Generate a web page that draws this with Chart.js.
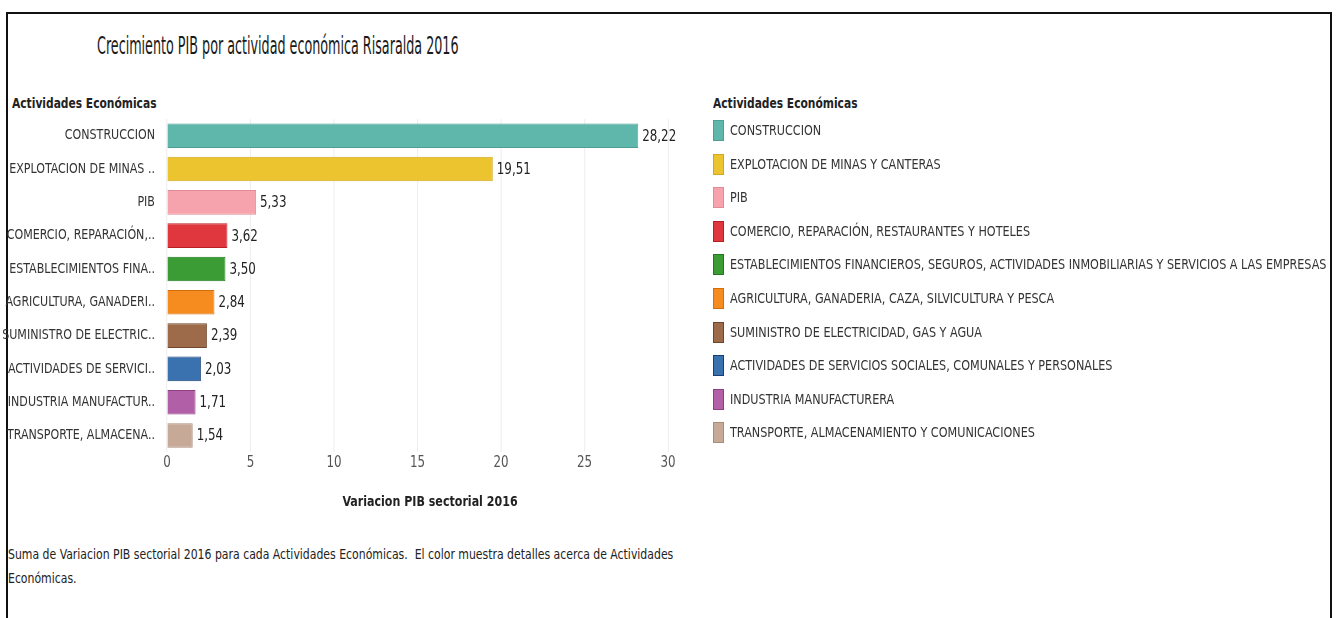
<!DOCTYPE html>
<html>
<head>
<meta charset="utf-8">
<script src="https://cdn.jsdelivr.net/npm/chart.js@4.4.0/dist/chart.umd.min.js"></script>
<style>
  body { margin: 0; background: #fff; font-family: "DejaVu Sans Condensed", "DejaVu Sans", sans-serif; color: #333; }
  #frame { position: absolute; left: 6px; top: 12px; width: 1322px; height: 640px; border: 2px solid #111; border-bottom: none; }
  .sq { position: absolute; white-space: nowrap; transform-origin: left top; transform: scaleX(0.88); }
  #title { left: 97px; top: 31px; font-size: 25px; color: #1a1a1a; transform: scaleX(0.566); }
  .hdr { font-size: 13.5px; font-weight: bold; color: #222; }
  #wrap { position: absolute; left: 0; top: 105px; width: 800px; height: 406px; }
  #legend { position: absolute; left: 713px; top: 120px; }
  .item { position: absolute; left: 0; height: 22px; white-space: nowrap; font-size: 14px; color: #333; }
  .sw { position: absolute; left: 0; top: 0; width: 11px; height: 21px; box-sizing: border-box; }
  .lbl { left: 17px; top: 2px; transform: scaleX(0.89); }
  #foot { left: 8px; top: 542px; font-size: 14px; line-height: 24px; color: #222; transform: scaleX(0.865); }
</style>
</head>
<body>
<div id="frame"></div>
<div id="title" class="sq">Crecimiento PIB por actividad económica Risaralda 2016</div>
<div class="hdr sq" style="left:12px; top:95px;">Actividades Económicas</div>
<div class="hdr sq" style="left:713px; top:95px;">Actividades Económicas</div>
<div id="wrap"><canvas id="myChart"></canvas></div>
<div id="legend"></div>
<div id="foot" class="sq">Suma de Variacion PIB sectorial 2016 para cada Actividades Económicas.&nbsp; El color muestra detalles acerca de Actividades<br>Económicas.</div>
<script>
const categories = [
    'CONSTRUCCION',
    'EXPLOTACION DE MINAS Y CANTERAS',
    'PIB',
    'COMERCIO, REPARACIÓN, RESTAURANTES Y HOTELES',
    'ESTABLECIMIENTOS FINANCIEROS, SEGUROS, ACTIVIDADES INMOBILIARIAS Y SERVICIOS A LAS EMPRESAS',
    'AGRICULTURA, GANADERIA, CAZA, SILVICULTURA Y PESCA',
    'SUMINISTRO DE ELECTRICIDAD, GAS Y AGUA',
    'ACTIVIDADES DE SERVICIOS SOCIALES, COMUNALES Y PERSONALES',
    'INDUSTRIA MANUFACTURERA',
    'TRANSPORTE, ALMACENAMIENTO Y COMUNICACIONES'
];
const axisLabels = [
    'CONSTRUCCION',
    'EXPLOTACION DE MINAS ..',
    'PIB',
    'COMERCIO, REPARACIÓN,..',
    'ESTABLECIMIENTOS FINA..',
    'AGRICULTURA, GANADERI..',
    'SUMINISTRO DE ELECTRIC..',
    'ACTIVIDADES DE SERVICI..',
    'INDUSTRIA MANUFACTUR..',
    'TRANSPORTE, ALMACENA..'
];
const values = [28.22, 19.51, 5.33, 3.62, 3.50, 2.84, 2.39, 2.03, 1.71, 1.54];
const colors = ['#5fb7ab', '#ebc42f', '#f7a3ad', '#e0373f', '#3b9c35', '#f68c1f', '#9d6b4a', '#3a72b0', '#b15fa6', '#c6aa97'];
const borders = ['#4f9e93', '#cfa81f', '#e08c96', '#b81e26', '#1f7a1f', '#d26f0a', '#6f4428', '#173f73', '#8e3f83', '#a88c79'];
const xTicks = [0, 5, 10, 15, 20, 25, 30];

const font = '"DejaVu Sans Condensed", "DejaVu Sans", sans-serif';
const sx = 0.88; // horizontal squeeze, the original font is very narrow

// legend built from the same arrays
const legend = document.getElementById('legend');
categories.forEach((name, i) => {
    const item = document.createElement('div');
    item.className = 'item';
    item.style.top = (i * 33.6) + 'px';
    item.innerHTML = '<div class="sw" style="background:' + colors[i] + ';border:1px solid ' + borders[i] + '"></div><div class="lbl sq">' + name + '</div>';
    legend.appendChild(item);
});

const squeeze = {
    id: 'squeeze',
    beforeDraw(chart) { chart.ctx.save(); chart.ctx.scale(sx, 1); },
    afterDraw(chart) { chart.ctx.restore(); }
};

const valueLabels = {
    id: 'valueLabels',
    afterDatasetsDraw(chart) {
        const ctx = chart.ctx;
        const meta = chart.getDatasetMeta(0);
        ctx.save();
        ctx.font = '15px ' + font;
        ctx.fillStyle = '#222';
        ctx.textBaseline = 'middle';
        meta.data.forEach((bar, i) => {
            ctx.fillText(values[i].toFixed(2).replace('.', ','), bar.x + 4 / sx, bar.y + 1);
        });
        ctx.restore();
    }
};

const ctx = document.getElementById('myChart').getContext('2d');
new Chart(ctx, {
    type: 'bar',
    data: {
        labels: axisLabels,
        datasets: [{
            data: values,
            backgroundColor: colors,
            borderColor: borders,
            borderWidth: 1,
            barPercentage: 0.74,
            categoryPercentage: 1
        }]
    },
    options: {
        indexAxis: 'y',
        responsive: true,
        maintainAspectRatio: false,
        animation: false,
        layout: { padding: { top: 7, right: 800 - 693 / sx, left: 0, bottom: 0 } },
        plugins: { legend: { display: false }, tooltip: { enabled: false } },
        scales: {
            y: {
                afterFit: s => { s.width = 167 / sx; },
                grid: { display: false },
                border: { display: false },
                ticks: { color: '#333', padding: 5 / sx, font: { family: font, size: 14 } }
            },
            x: {
                min: 0,
                max: 31.5,
                afterBuildTicks: s => { s.ticks = xTicks.map(v => ({ value: v })); },
                grid: { color: '#ececf0', drawTicks: false },
                border: { display: false },
                ticks: { color: '#555', padding: 2, font: { family: font, size: 15 } },
                title: {
                    display: true,
                    text: 'Variacion PIB sectorial 2016',
                    color: '#222',
                    padding: { top: 20, bottom: 0 },
                    font: { family: font, size: 14, weight: 'bold' }
                }
            }
        }
    },
    plugins: [squeeze, valueLabels]
});
</script>
</body>
</html>
